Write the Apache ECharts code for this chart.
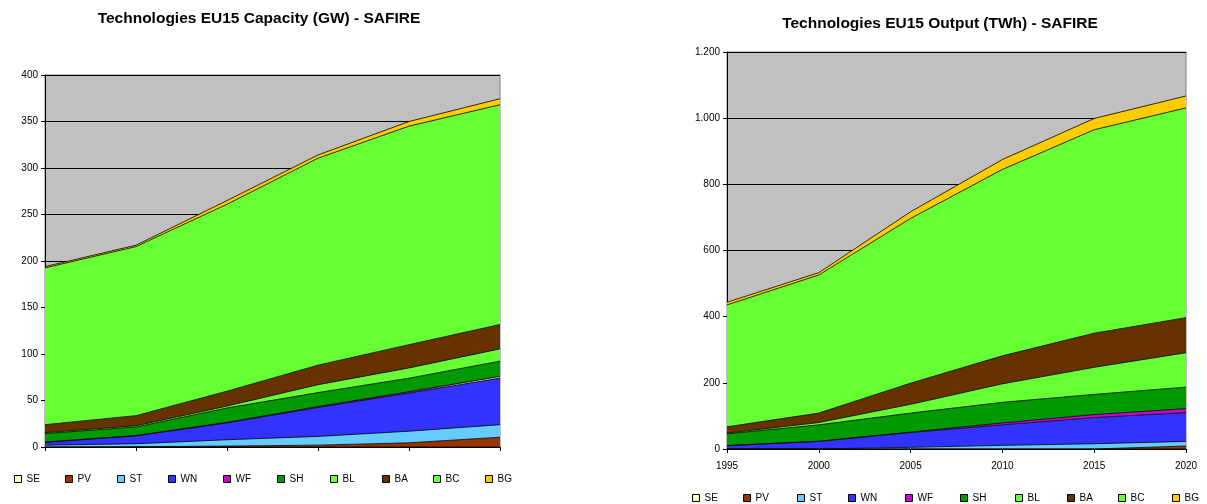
<!DOCTYPE html>
<html><head><meta charset="utf-8">
<script src="https://cdn.jsdelivr.net/npm/echarts@6/dist/echarts.min.js"></script>
<style>html,body{margin:0;padding:0;background:#fff}#c{width:1207px;height:504px}</style>
</head><body><div id="c"></div>
<script>
// ---- data ----
const years = ['1995','2000','2005','2010','2015','2020'];
const techNames = ['SE','PV','ST','WN','WF','SH','BL','BA','BC','BG'];
const techColors = ['#FFFFCC','#993300','#66CCFF','#3333FF','#CC00CC','#009900','#66FF33','#663300','#66FF33','#FFCC00'];

// Capacity (GW)
const capSE = [0, 0, 0, 0, 0, 0];
const capPV = [0, 0.3, 1, 2, 4.5, 10.5];
const capST = [2, 3.2, 6.8, 9.4, 12.5, 13.5];
const capWN = [3, 8.5, 18.2, 31.1, 41, 50];
const capWF = [0.3, 0.3, 0.5, 1, 1.5, 2];
const capSH = [9.2, 9.2, 15.5, 15, 14.5, 16.3];
const capBL = [1, 1.3, 2, 8.5, 11, 13.2];
const capBA = [8.5, 10.9, 16, 21, 25, 26.2];
const capBC = [168.6, 181.8, 201, 222.5, 235, 236.3];
const capBG = [1.4, 1.5, 4, 3.5, 5, 6.5];

// Output (TWh)
const outSE = [0, 0, 0, 0, 0, 0];
const outPV = [0, 0, 0, 0, 0, 9];
const outST = [0.5, 0.5, 5, 11, 16, 14];
const outWN = [9.5, 22.5, 45, 62, 79, 87];
const outWF = [0.5, 0.5, 1, 6, 9, 12];
const outSH = [35.5, 49.5, 57.6, 62, 61, 65];
const outBL = [2, 7, 26.4, 56, 82, 104];
const outBA = [19, 28.6, 64, 84.6, 103, 106];
const outBC = [368.5, 417.4, 498, 563.4, 615, 634];
const outBG = [8.1, 7, 20, 30, 34, 36];

const capTicks = {min: 0, max: 400, interval: 50};
const outTicks = {min: 0, max: 1200, interval: 200};

// ---- chart ----
const capData = [capSE, capPV, capST, capWN, capWF, capSH, capBL, capBA, capBC, capBG];
const outData = [outSE, outPV, outST, outWN, outWF, outSH, outBL, outBA, outBC, outBG];
const FONT = 'Liberation Sans, Arial, sans-serif';

function fmtThousands(v){ return String(v).replace(/\B(?=(\d{3})+(?!\d))/g, '.'); }

function mkSeries(data, idx, stack){
  return techNames.map((n,i)=>({
    name: n, type: 'line', stack: stack, xAxisIndex: idx, yAxisIndex: idx,
    data: data[i], symbol: 'none', smooth: false,
    lineStyle: {color: '#000', width: 0.8},
    itemStyle: {color: techColors[i]},
    areaStyle: {color: techColors[i], opacity: 1},
    emphasis: {disabled: true}
  }));
}

const leftLegendX = [14, 65, 117, 168, 223, 277, 330, 382, 433, 485];
const rightLegendX = [692, 743, 797, 848, 905, 960, 1015, 1067, 1118, 1172];
function mkLegends(xs, top){
  return techNames.map((n,i)=>({
    data: [n], left: xs[i], top: top, padding: 0, itemWidth: 7, itemHeight: 7,
    icon: 'rect', itemGap: 4, selectedMode: false,
    itemStyle: {borderColor: '#000', borderWidth: 1},
    textStyle: {fontFamily: FONT, fontSize: 10, color: '#000'}
  }));
}

const axisLine = {show: true, lineStyle: {color: '#000', width: 1}};
const option = {
  animation: false,
  backgroundColor: '#fff',
  title: [
    {text: 'Technologies EU15 Capacity (GW) - SAFIRE', left: 254, top: 6, textAlign: 'center',
     textStyle: {fontFamily: FONT, fontSize: 15.5, fontWeight: 'bold', color: '#000'}},
    {text: 'Technologies EU15 Output (TWh) - SAFIRE', left: 935, top: 11, textAlign: 'center',
     textStyle: {fontFamily: FONT, fontSize: 15.5, fontWeight: 'bold', color: '#000'}}
  ],
  legend: mkLegends(leftLegendX, 474).concat(mkLegends(rightLegendX, 493)),
  grid: [
    {left: 45, right: 707, top: 75, bottom: 57, show: true, backgroundColor: '#C0C0C0', borderColor: '#808080', borderWidth: 1},
    {left: 727, right: 21, top: 52, bottom: 55, show: true, backgroundColor: '#C0C0C0', borderColor: '#808080', borderWidth: 1}
  ],
  xAxis: [
    {type: 'category', gridIndex: 0, data: years, boundaryGap: false,
     axisLine: axisLine, axisTick: {show: true, length: 4, lineStyle: {color: '#000'}},
     axisLabel: {show: false}, splitLine: {show: false}},
    {type: 'category', gridIndex: 1, data: years, boundaryGap: false,
     axisLine: axisLine, axisTick: {show: true, length: 4, lineStyle: {color: '#000'}},
     axisLabel: {show: true, fontFamily: FONT, fontSize: 10, color: '#000', margin: 12},
     splitLine: {show: false}}
  ],
  yAxis: [
    {type: 'value', gridIndex: 0, min: capTicks.min, max: capTicks.max, interval: capTicks.interval,
     axisLine: axisLine, axisTick: {show: true, length: 4, lineStyle: {color: '#000'}},
     axisLabel: {fontFamily: FONT, fontSize: 10, color: '#000', margin: 7},
     splitLine: {show: true, lineStyle: {color: '#000', width: 1}}},
    {type: 'value', gridIndex: 1, min: outTicks.min, max: outTicks.max, interval: outTicks.interval,
     axisLine: axisLine, axisTick: {show: true, length: 4, lineStyle: {color: '#000'}},
     axisLabel: {fontFamily: FONT, fontSize: 10, color: '#000', margin: 7, formatter: fmtThousands},
     splitLine: {show: true, lineStyle: {color: '#000', width: 1}}}
  ],
  series: mkSeries(capData, 0, 'cap').concat(mkSeries(outData, 1, 'out'))
};
const chart = echarts.init(document.getElementById('c'), null, {renderer: 'canvas'});
chart.setOption(option);
</script></body></html>
